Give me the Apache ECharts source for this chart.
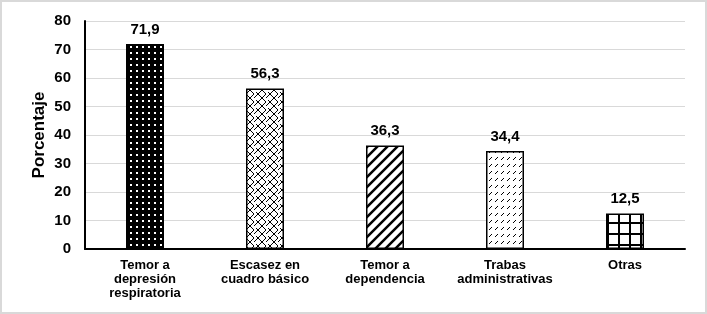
<!DOCTYPE html>
<html>
<head>
<meta charset="utf-8">
<script src="https://cdn.jsdelivr.net/npm/echarts@6/dist/echarts.min.js"></script>
<style>
  html, body { margin: 0; padding: 0; background: #fff; }
  #main { width: 703px; height: 310px; border: 2px solid #d9d9d9; }
</style>
</head>
<body>
<div id="main"></div>
<script>
var categories = ['Temor a\ndepresión\nrespiratoria', 'Escasez en\ncuadro básico', 'Temor a\ndependencia', 'Trabas\nadministrativas', 'Otras'];
var values = [71.9, 56.3, 36.3, 34.4, 12.5];
var yTicks = [0, 10, 20, 30, 40, 50, 60, 70, 80];

// patrones de relleno para cada barra
function makePattern(kind) {
  var c = document.createElement('canvas');
  var ctx = c.getContext('2d');
  if (kind == 'dots') {
    c.width = 6; c.height = 6;
    ctx.fillStyle = '#000'; ctx.fillRect(0, 0, 6, 6);
    ctx.fillStyle = '#fff'; ctx.fillRect(2, 2, 2, 2);
  } else if (kind == 'brick') {
    c.width = 12; c.height = 8;
    ctx.fillStyle = '#fff'; ctx.fillRect(0, 0, 12, 8);
    ctx.strokeStyle = '#000'; ctx.lineWidth = 1;
    ctx.beginPath();
    ctx.moveTo(0, 8); ctx.lineTo(8, 0);
    ctx.moveTo(8, 8); ctx.lineTo(12, 4);
    ctx.moveTo(2, 2); ctx.lineTo(8, 8);
    ctx.moveTo(8, 0); ctx.lineTo(12, 4);
    ctx.stroke();
  } else if (kind == 'stripes') {
    c.width = 10; c.height = 10;
    ctx.fillStyle = '#fff'; ctx.fillRect(0, 0, 10, 10);
    ctx.strokeStyle = '#000'; ctx.lineWidth = 2.5;
    ctx.beginPath();
    ctx.moveTo(-2, 12); ctx.lineTo(12, -2);
    ctx.moveTo(-2, 2); ctx.lineTo(2, -2);
    ctx.moveTo(8, 12); ctx.lineTo(12, 8);
    ctx.stroke();
  } else if (kind == 'dashes') {
    c.width = 6; c.height = 7;
    ctx.fillStyle = '#fff'; ctx.fillRect(0, 0, 6, 7);
    ctx.strokeStyle = '#000'; ctx.lineWidth = 1;
    ctx.beginPath();
    ctx.moveTo(1, 4); ctx.lineTo(4, 1);
    ctx.stroke();
  } else {
    c.width = 11; c.height = 11;
    ctx.fillStyle = '#fff'; ctx.fillRect(0, 0, 11, 11);
    ctx.fillStyle = '#000';
    ctx.fillRect(0, 0, 11, 2);
    ctx.fillRect(0, 0, 2, 11);
  }
  return { image: c, repeat: 'repeat' };
}
var patterns = ['dots', 'brick', 'stripes', 'dashes', 'grid'];

var chart = echarts.init(document.getElementById('main'));

var option = {
  animation: false,
  backgroundColor: '#fff',
  grid: { left: 83, right: 20, top: 19, bottom: 63 },
  xAxis: {
    type: 'category',
    data: categories,
    axisLine: { lineStyle: { color: '#000', width: 2 } },
    axisTick: { show: false },
    axisLabel: {
      color: '#000', fontWeight: 'bold', fontSize: 13,
      fontFamily: 'Liberation Sans', lineHeight: 14, margin: 9, interval: 0
    }
  },
  yAxis: {
    type: 'value',
    min: 0, max: 80, interval: 10,
    name: 'Porcentaje',
    nameLocation: 'middle',
    nameGap: 37,
    nameMoveOverlap: false,
    nameTextStyle: { color: '#000', fontWeight: 'bold', fontSize: 17, fontFamily: 'Liberation Sans' },
    axisLine: { show: true, lineStyle: { color: '#000', width: 2 } },
    axisTick: { show: false },
    splitLine: { lineStyle: { color: '#d9d9d9', width: 1 } },
    axisLabel: {
      color: '#000', fontWeight: 'bold', fontSize: 15,
      fontFamily: 'Liberation Sans', margin: 14,
      formatter: function (v) { return yTicks.indexOf(v) >= 0 ? String(v) : ''; }
    }
  },
  series: [{
    type: 'bar',
    barWidth: 38,
    data: values.map(function (v, i) {
      return { value: v, itemStyle: { color: makePattern(patterns[i]) } };
    }),
    itemStyle: { borderColor: '#000', borderWidth: 1.5 },
    label: {
      show: true, position: 'top', distance: 7,
      color: '#000', fontWeight: 'bold', fontSize: 15, fontFamily: 'Liberation Sans',
      formatter: function (p) { return p.value.toFixed(1).replace('.', ','); }
    }
  }]
};

chart.setOption(option);
</script>
</body>
</html>
